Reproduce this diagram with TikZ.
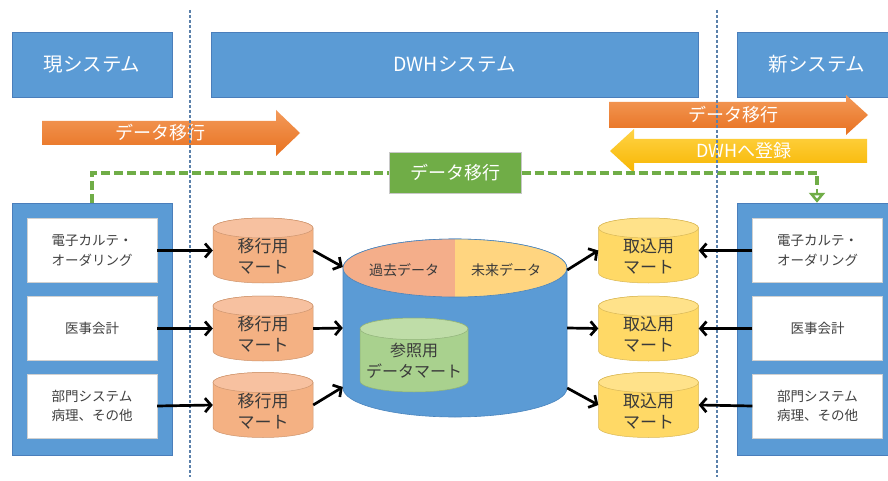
\documentclass[tikz,border=0pt]{standalone}
\usepackage{fontspec}
\setmainfont{Noto Sans CJK JP}
\usetikzlibrary{arrows.meta}

\definecolor{hdrblue}{HTML}{5B9BD5}
\definecolor{hdrline}{HTML}{4A7EBB}
\definecolor{sepline}{HTML}{5A80AA}
\definecolor{itemline}{HTML}{D0D0D0}
\definecolor{itemink}{HTML}{404040}
\definecolor{drumink}{HTML}{3A3A3A}
\definecolor{orgtop}{HTML}{F39A5A}
\definecolor{orgbot}{HTML}{E8711F}
\definecolor{yeltop}{HTML}{FFD447}
\definecolor{yelbot}{HTML}{F7B500}
\definecolor{mvgreen}{HTML}{70AD47}
\definecolor{gboxline}{HTML}{C8C8C8}
\definecolor{migbody}{HTML}{F4B183}
\definecolor{migtop}{HTML}{F7C1A0}
\definecolor{impbody}{HTML}{FFD966}
\definecolor{imptop}{HTML}{FFE28A}
\definecolor{refbody}{HTML}{A9D18E}
\definecolor{reftop}{HTML}{BFDDA8}
\definecolor{dwhline}{HTML}{4A85BE}
\definecolor{pastfill}{HTML}{F4AE8A}
\definecolor{futfill}{HTML}{FFD580}

% upright data drum: [text style]{name}{x}{y}{half width}{half height}{body}{top}{text}
\newcommand{\drum}[9][]{%
  \filldraw[fill=#7, draw=#7!85!black, line width=0.5pt]
    (#3-#5,#4+#6-#5/5) -- (#3-#5,#4-#6+#5/5)
    arc[start angle=180, end angle=360, x radius=#5pt, y radius=#5*0.2pt]
    -- (#3+#5,#4+#6-#5/5)
    arc[start angle=0, end angle=180, x radius=#5pt, y radius=#5*0.2pt] -- cycle;
  \filldraw[fill=#8, draw=#7!85!black, line width=0.5pt]
    (#3,#4+#6-#5/5) ellipse[x radius=#5pt, y radius=#5*0.2pt];
  \node[inner sep=0pt, minimum width={2*#5}, minimum height={2*#6}] (#2) at (#3,#4) {};
  \node[align=center, #1] (#2-t) at (#3,#4-6) {#9};}

\begin{document}
\begin{tikzpicture}[x=1pt, y=1pt,
  header/.style={draw=hdrline, fill=hdrblue, line width=0.5pt, minimum height=65pt,
    inner sep=0pt, text=white, font=\fontsize{19.5}{23}\selectfont},
  sysbox/.style={draw=hdrline, fill=hdrblue, line width=0.5pt, minimum width=160pt,
    minimum height=252pt, inner sep=0pt},
  sysitem/.style={draw=itemline, fill=white, minimum width=130pt, minimum height=64pt,
    inner sep=0pt, align=center, text=itemink, font=\fontsize{13.5}{19.5}\selectfont},
  flow/.style={line width=2.7pt, -{Straight Barb[length=6pt, width=14pt]}},
  migline/.style={draw=mvgreen, line width=3.4pt, dash pattern=on 9pt off 4pt},
  sep/.style={draw=sepline, line width=1.8pt, dash pattern=on 3pt off 2pt},
  bandtext/.style={text=white, font=\fontsize{18}{21}\selectfont},
  drumtext/.style={text=drumink, font=\fontsize{17}{21}\selectfont},
  reftext/.style={text=drumink, font=\fontsize{16}{21}\selectfont},
  toptext/.style={text=drumink, font=\fontsize{14}{17}\selectfont}]
  \path[use as bounding box, fill=white] (0,0) rectangle (888,480);

  % headers
  \node[header, minimum width=160pt] (curhdr) at (92,415.5) {現システム};
  \node[header, minimum width=487pt] (dwhhdr) at (454.5,415.5) {DWHシステム};
  \node[header, minimum width=160pt] (newhdr) at (817,415.5) {新システム};

  % migration bands
  \shade[top color=orgtop, bottom color=orgbot]
    (42,335) -- (42,359) -- (276,359) -- (276,370) -- (300,347) -- (276,324) -- (276,335) -- cycle;
  \node[bandtext] (band1) at (160,347) {データ移行};
  \shade[top color=orgtop, bottom color=orgbot]
    (609,352) -- (609,378) -- (846,378) -- (846,385) -- (868,365) -- (846,345) -- (846,352) -- cycle;
  \node[bandtext] (band2) at (733,365) {データ移行};
  \shade[top color=yeltop, bottom color=yelbot]
    (867,317) -- (867,341) -- (634,341) -- (634,351) -- (610,329) -- (634,307) -- (634,317) -- cycle;
  \node[bandtext] (band3) at (744,329) {DWHへ登録};

  % systems
  \node[sysbox] (lsys) at (92,151) {};
  \node[sysitem] (l1) at (92,229.5) {電子カルテ・\\オーダリング};
  \node[sysitem] (l2) at (92,151.5) {医事会計};
  \node[sysitem] (l3) at (92,74) {部門システム\\病理、その他};
  \node[sysbox] (rsys) at (817,151) {};
  \node[sysitem] (r1) at (817.5,229.5) {電子カルテ・\\オーダリング};
  \node[sysitem] (r2) at (817.5,151.5) {医事会計};
  \node[sysitem] (r3) at (817.5,74) {部門システム\\病理、その他};

  % direct migration
  \node[fill=mvgreen, draw=gboxline, line width=1pt, minimum width=132pt, minimum height=41pt,
    bandtext] (mig) at (455,307) {データ移行};
  \coordinate (drop) at ([yshift=14pt]rsys.north);
  \draw[migline] (lsys.north) |- (mig.west);
  \draw[migline] (mig.east) -| (drop);
  \draw[mvgreen, line width=2.6pt, -{Triangle[open, length=10pt, width=16pt]}] (drop) -- (rsys.north);

  % DWH store
  \filldraw[fill=hdrblue, draw=dwhline, line width=0.6pt]
    (343,212) -- (343,92) arc[start angle=180, end angle=360, x radius=112pt, y radius=29pt]
    -- (567,212) arc[start angle=0, end angle=180, x radius=112pt, y radius=29pt] -- cycle;
  \begin{scope}
    \clip (455,212) ellipse[x radius=112pt, y radius=29pt];
    \fill[pastfill] (343,183) rectangle (455,241);
    \fill[futfill] (455,183) rectangle (567,241);
  \end{scope}
  \draw[dwhline, line width=0.6pt] (455,212) ellipse[x radius=112pt, y radius=29pt];
  \node[inner sep=0pt, minimum width=224pt, minimum height=178pt] (dwh) at (455,152) {};
  \node[toptext] (past) at (404,210) {過去データ};
  \node[toptext] (future) at (506,210) {未来データ};
  \drum[reftext]{ref}{414}{125}{54}{37}{refbody}{reftop}{参照用\\データマート}

  % marts
  \drum[drumtext]{m1}{263}{229.5}{50}{32.5}{migbody}{migtop}{移行用\\マート}
  \drum[drumtext]{m2}{263}{151.5}{50}{32.5}{migbody}{migtop}{移行用\\マート}
  \drum[drumtext]{m3}{263}{75}{50}{32.5}{migbody}{migtop}{移行用\\マート}
  \drum[drumtext]{i1}{648.5}{229.5}{50}{32.5}{impbody}{imptop}{取込用\\マート}
  \drum[drumtext]{i2}{648.5}{151.5}{50}{32.5}{impbody}{imptop}{取込用\\マート}
  \drum[drumtext]{i3}{648.5}{75}{50}{32.5}{impbody}{imptop}{取込用\\マート}

  % borders between systems
  \draw[sep] (190,470) -- (190,3);
  \draw[sep] (717,470) -- (717,3);

  % flows
  \draw[flow] (l1.east) -- (m1.west);
  \draw[flow] (l2.east) -- (m2.west);
  \draw[flow] (l3.east) -- (m3.west);
  \draw[flow] (m1.east) -- ([yshift=61pt]dwh.west);
  \draw[flow] (m2.east) -- (dwh.west);
  \draw[flow] (m3.east) -- ([yshift=-59pt]dwh.west);
  \draw[flow] ([yshift=58pt]dwh.east) -- (i1.west);
  \draw[flow] (dwh.east) -- (i2.west);
  \draw[flow] ([yshift=-60pt]dwh.east) -- (i3.west);
  \draw[flow] (r1.west) -- (i1.east);
  \draw[flow] (r2.west) -- (i2.east);
  \draw[flow] (r3.west) -- (i3.east);
\end{tikzpicture}
\end{document}
